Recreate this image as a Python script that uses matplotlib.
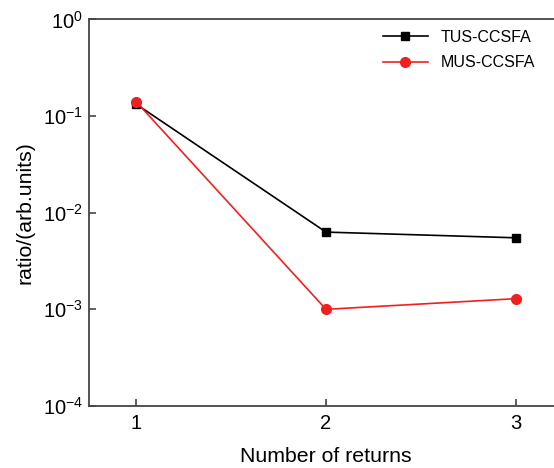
import matplotlib
matplotlib.use("Agg")
import matplotlib.pyplot as plt
from matplotlib.ticker import LogLocator, NullLocator

# data
returns = [1, 2, 3]
tus_ccsfa = [0.133, 0.0063, 0.0055]
mus_ccsfa = [0.141, 0.0010, 0.00129]

plt.rcParams['font.family'] = 'Liberation Sans'
plt.rcParams['mathtext.fontset'] = 'custom'
plt.rcParams['mathtext.rm'] = 'Liberation Sans'
plt.rcParams['mathtext.it'] = 'Liberation Sans'
plt.rcParams['mathtext.default'] = 'regular'

fig = plt.figure(figsize=(5.54, 4.68), dpi=100)
ax = fig.add_axes([0.160, 0.1325, 0.857, 0.826])

ax.plot(returns, tus_ccsfa, color='black', marker='s', markersize=6, linewidth=1.2, label='TUS-CCSFA')
ax.plot(returns, mus_ccsfa, color='#f02020', marker='o', markersize=7, linewidth=1.2, label='MUS-CCSFA')

ax.set_yscale('log')
ax.set_ylim(1e-4, 1)
ax.set_xlim(0.75, 3.25)
ax.set_xticks(returns)
ax.yaxis.set_major_locator(LogLocator(base=10, numticks=10))
ax.yaxis.set_minor_locator(NullLocator())

for side in ['left', 'bottom', 'top']:
    ax.spines[side].set_color('#444444')
    ax.spines[side].set_linewidth(1.3)
ax.spines['right'].set_visible(False)
ax.tick_params(axis='both', direction='in', length=5, width=1.2, color='#444444', labelsize=14.5, pad=4)
ax.tick_params(axis='x', pad=6)

ax.set_xlabel('Number of returns', fontsize=15.3, labelpad=10)
ax.set_ylabel('ratio/(arb.units)', fontsize=15.3, labelpad=6)

ax.legend(loc='upper right', bbox_to_anchor=(0.97, 1.01), frameon=False, fontsize=11.5,
          handlelength=2.8, labelspacing=0.65)

fig.savefig('out.png', dpi=100)
